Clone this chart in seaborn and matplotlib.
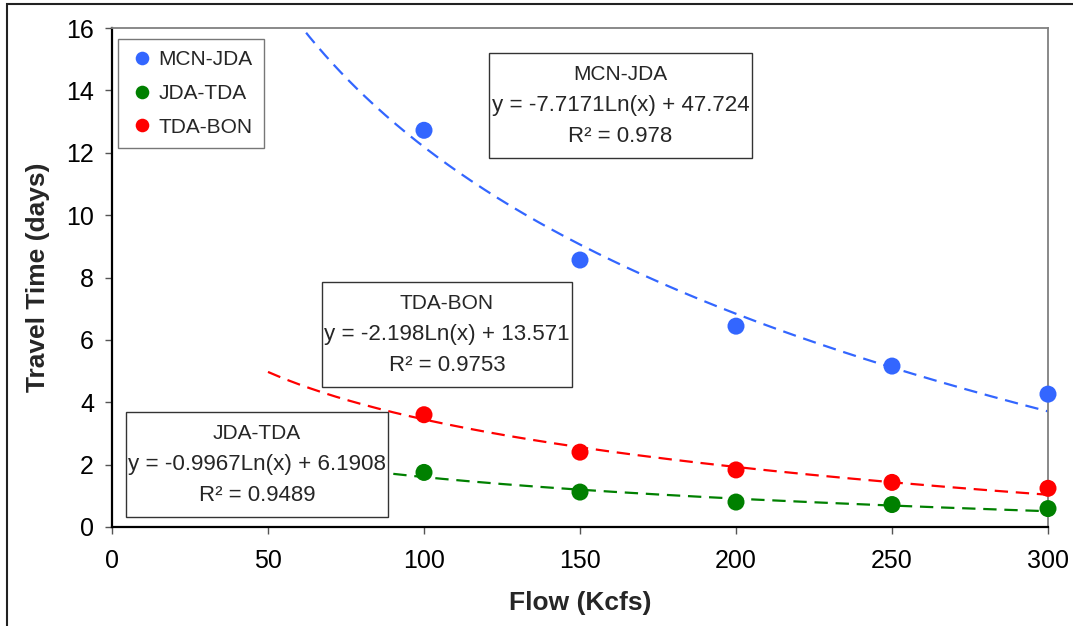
import numpy as np
import pandas as pd
import matplotlib
matplotlib.use("Agg")
import matplotlib.pyplot as plt
from matplotlib.patches import Rectangle
import seaborn as sns

# ---- data ----
flow = [100, 150, 200, 250, 300]
mcn_jda = [12.72, 8.56, 6.44, 5.16, 4.26]
jda_tda = [1.75, 1.12, 0.80, 0.72, 0.59]
tda_bon = [3.60, 2.40, 1.83, 1.43, 1.24]
series_names = ["MCN-JDA", "JDA-TDA", "TDA-BON"]
colors = {"MCN-JDA": "#3366FF", "JDA-TDA": "#008000", "TDA-BON": "#FF0000"}
# trendline coefficients (y = a*Ln(x) + b) as printed on the chart
coef_a = [-7.7171, -0.9967, -2.198]
coef_b = [47.724, 6.1908, 13.571]
r2_text = ["0.978", "0.9489", "0.9753"]
eq_text = ["y = -7.7171Ln(x) + 47.724", "y = -0.9967Ln(x) + 6.1908", "y = -2.198Ln(x) + 13.571"]
trend_range = [50, 300]
x_ticks = [0, 50, 100, 150, 200, 250, 300]
y_ticks = [0, 2, 4, 6, 8, 10, 12, 14, 16]

sns.set_style("ticks")
plt.rcParams["font.family"] = ["Liberation Sans", "DejaVu Sans"]

df = pd.DataFrame({
    "Flow": flow * 3,
    "Time": mcn_jda + jda_tda + tda_bon,
    "Series": [s for s in series_names for _ in flow],
})

fig = plt.figure(figsize=(10.73, 6.26), dpi=100)
ax = fig.add_axes([112/1073, 1-527/626, 936/1073, 499/626])

# trendlines
xs = np.linspace(trend_range[0], trend_range[1], 300)
rows = []
for name, a, b in zip(series_names, coef_a, coef_b):
    for xv in xs:
        rows.append((xv, a*np.log(xv) + b, name))
tdf = pd.DataFrame(rows, columns=["Flow", "Time", "Series"])
for name in series_names:
    sub = tdf[tdf.Series == name]
    sns.lineplot(data=sub, x="Flow", y="Time", color=colors[name], lw=1.6,
                 dashes=False, ax=ax, zorder=2, legend=False)
for l in ax.get_lines():
    l.set_dashes((6, 3.5))

sns.scatterplot(data=df, x="Flow", y="Time", hue="Series", palette=colors,
                hue_order=series_names, s=150, edgecolor="none", ax=ax, zorder=4,
                legend=True)
for c in ax.collections:
    c.set_clip_on(False)

ax.set_xlim(0, 300)
ax.set_ylim(0, 16)
ax.set_xticks(x_ticks)
ax.set_yticks(y_ticks)
ax.tick_params(axis="both", direction="out", length=5, width=1.0, color="#555555",
               labelsize=18, labelcolor="black")
ax.tick_params(axis="y", pad=8)
ax.tick_params(axis="x", pad=11)
for side in ["left", "bottom"]:
    ax.spines[side].set_color("black")
    ax.spines[side].set_linewidth(1.6)
for side in ["top", "right"]:
    ax.spines[side].set_visible(True)
    ax.spines[side].set_color("#808080")
    ax.spines[side].set_linewidth(1.3)

ax.set_xlabel("Flow (Kcfs)", fontsize=19, fontweight="bold")
ax.set_ylabel("Travel Time (days)", fontsize=19, fontweight="bold")
ax.xaxis.set_label_coords(0.5, (527-603)/499)
ax.xaxis.label.set_va("center")
ax.yaxis.set_label_coords((38-112)/936, 0.5)
ax.yaxis.label.set_va("center")

# legend
handles, labels = ax.get_legend_handles_labels()
leg = ax.legend(handles, labels, loc="upper left",
                bbox_to_anchor=((118-112)/936, (527-39)/499), borderaxespad=0,
                frameon=True, fancybox=False, edgecolor="#555555", fontsize=15,
                handletextpad=0.2, handlelength=1.2, labelspacing=0.7,
                borderpad=0.55, markerscale=0.8)
leg.get_frame().set_linewidth(1.0)
leg.set_zorder(6)

# equation boxes (pixel extents -> axes fraction)
def px2ax(x, y):
    return (x-112)/936, (527-y)/499

boxes = [(489, 53, 752, 158), (126, 412, 388, 517), (322, 282, 572, 387)]
for i, (x0, y0, x1, y1) in enumerate(boxes):
    ax0, ay1 = px2ax(x0, y0)
    ax1, ay0 = px2ax(x1, y1)
    rect = Rectangle((ax0, ay0), ax1-ax0, ay1-ay0, transform=ax.transAxes,
                     facecolor="white", edgecolor="#333333", lw=1.0, zorder=5)
    ax.add_patch(rect)
    cx = (ax0+ax1)/2
    cy_px = (y0+y1)/2
    lines = [series_names[i], eq_text[i], "R² = " + r2_text[i]]
    sizes = [15, 16.1, 16]
    for k, txt in enumerate(lines):
        _, ty = px2ax(0, cy_px + (k-1)*31)
        ax.text(cx, ty, txt, transform=ax.transAxes, ha="center", va="center",
                fontsize=sizes[k], zorder=6)

# outer chart frame
fig.patches.append(Rectangle((7/1073, -0.05), 1.1, 1-4/626+0.05,
                             transform=fig.transFigure, facecolor="none",
                             edgecolor="#222222", lw=1.5, zorder=0))

fig.savefig("out.png", dpi=100)
